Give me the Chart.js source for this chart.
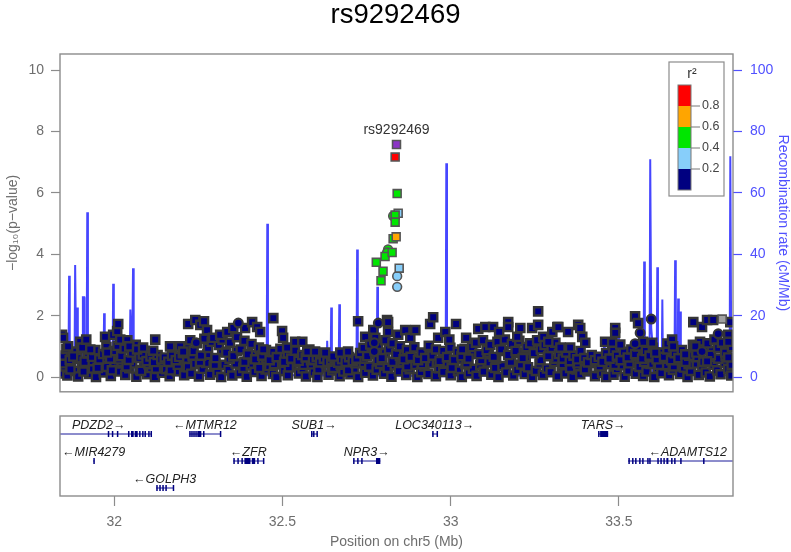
<!DOCTYPE html>
<html>
<head>
<meta charset="utf-8">
<script src="https://cdn.jsdelivr.net/npm/chart.js@4.4.0/dist/chart.umd.min.js"></script>
<style>
  html, body { margin: 0; padding: 0; background: #fff; }
  #wrap { position: relative; width: 791px; height: 552px; }
  #assoc { position: absolute; left: 0; top: 0; }
  #genes { position: absolute; left: 0; top: 400px; }
</style>
</head>
<body>
<div id="wrap">
  <canvas id="assoc" width="791" height="400"></canvas>
  <canvas id="genes" width="791" height="152"></canvas>
</div>
<script>
// ---- data ----
var leadSnp = 'rs9292469';
var leadPos = 32.839, leadLogP = 7.58;
var xMin = 31.839, xMax = 33.839;
var xTicks = [32, 32.5, 33, 33.5];
var pTicks = [0, 2, 4, 6, 8, 10];
var recTicks = [0, 20, 40, 60, 80, 100];
var r2Breaks = [0.2, 0.4, 0.6, 0.8];
var r2Colors = ['#000080', '#87cefa', '#00e600', '#ffa500', '#ff0000'];

// SNPs in LD with the lead SNP: position (Mb), -log10 p, r2, marker
var ldPos   = [32.835, 32.841, 32.844, 32.829, 32.835, 32.835, 32.829, 32.838, 32.814, 32.811, 32.805, 32.826, 32.779, 32.799, 32.793, 32.847, 32.841, 32.841];
var ldLogP  = [7.17, 5.98, 5.34, 5.25, 5.28, 5.05, 4.51, 4.57, 4.16, 4.06, 3.93, 4.06, 3.74, 3.45, 3.14, 3.55, 3.29, 2.94];
var ldR2    = [0.85, 0.5, 0.3, 0.45, 0.5, 0.5, 0.45, 0.65, 0.45, 0.45, 0.5, 0.5, 0.45, 0.45, 0.45, 0.3, 0.3, 0.3];
var ldShape = ['s', 's', 's', 'c', 's', 's', 's', 's', 'c', 'c', 's', 's', 's', 's', 's', 's', 'c', 'c'];

// background SNPs (r2 < 0.2): [position Mb, -log10 p]
var bgLow = [
  [31.842,0.12],[31.853,0.35],[31.861,0.05],[31.872,0.42],[31.884,0.2],[31.893,0.02],[31.905,0.31],[31.914,0.47],[31.926,0.1],[31.937,0.28],
  [31.946,0.0],[31.958,0.44],[31.969,0.15],[31.978,0.33],[31.990,0.04],[32.001,0.4],[32.012,0.18],[32.022,0.5],[32.033,0.07],[32.045,0.29],
  [32.054,0.45],[32.066,0.01],[32.077,0.22],[32.088,0.38],[32.098,0.09],[32.110,0.3],[32.121,0.0],[32.131,0.41],[32.142,0.14],[32.154,0.26],
  [32.165,0.03],[32.174,0.37],[32.186,0.19],[32.197,0.48],[32.208,0.06],[32.219,0.32],[32.229,0.11],[32.241,0.43],[32.252,0.02],[32.263,0.27],
  [32.273,0.46],[32.285,0.08],[32.296,0.35],[32.307,0.16],[32.318,0.0],[32.328,0.4],[32.340,0.23],[32.351,0.05],[32.361,0.44],[32.373,0.13],
  [32.384,0.3],[32.394,0.01],[32.406,0.38],[32.417,0.17],[32.428,0.47],[32.438,0.04],[32.450,0.25],[32.461,0.36],[32.472,0.1],[32.482,0.0],
  [32.494,0.42],[32.505,0.2],[32.516,0.06],[32.527,0.33],[32.537,0.48],[32.549,0.12],[32.560,0.28],[32.570,0.02],[32.582,0.39],[32.593,0.15],
  [32.604,0.0],[32.614,0.31],[32.626,0.45],[32.637,0.08],[32.648,0.22],[32.658,0.37],[32.670,0.03],[32.681,0.18],[32.692,0.41],[32.702,0.09],
  [32.714,0.27],[32.725,0.0],[32.736,0.46],[32.746,0.14],[32.758,0.34],[32.769,0.05],[32.780,0.24],[32.790,0.43],[32.802,0.11],[32.813,0.3],
  [32.824,0.01],[32.834,0.38],[32.846,0.19],[32.857,0.49],[32.868,0.07],[32.878,0.26],[32.890,0.4],[32.901,0.0],[32.912,0.16],[32.922,0.35],
  [32.934,0.1],[32.945,0.44],[32.956,0.03],[32.966,0.29],[32.978,0.17],[32.989,0.47],[33.000,0.06],[33.010,0.33],[33.022,0.21],[33.033,0.0],
  [33.044,0.42],[33.054,0.12],[33.066,0.27],[33.077,0.04],[33.088,0.39],[33.098,0.18],[33.110,0.48],[33.121,0.08],[33.132,0.3],[33.142,0.0],
  [33.154,0.36],[33.165,0.15],[33.176,0.45],[33.186,0.05],[33.198,0.23],[33.209,0.41],[33.220,0.1],[33.230,0.32],[33.242,0.0],[33.253,0.2],
  [33.264,0.44],[33.274,0.07],[33.286,0.28],[33.297,0.16],[33.308,0.5],[33.318,0.02],[33.330,0.34],[33.341,0.12],[33.352,0.4],[33.362,0.0],
  [33.374,0.25],[33.385,0.09],[33.396,0.37],[33.406,0.19],[33.418,0.46],[33.429,0.03],[33.440,0.3],[33.450,0.14],[33.462,0.0],[33.473,0.42],
  [33.484,0.08],[33.494,0.26],[33.506,0.38],[33.517,0.01],[33.528,0.21],[33.538,0.47],[33.550,0.11],[33.561,0.33],[33.572,0.04],[33.582,0.18],
  [33.594,0.43],[33.605,0.0],[33.616,0.29],[33.626,0.13],[33.638,0.39],[33.649,0.06],[33.660,0.24],[33.670,0.48],[33.682,0.1],[33.693,0.31],
  [33.704,0.0],[33.714,0.2],[33.726,0.44],[33.737,0.07],[33.748,0.35],[33.758,0.15],[33.770,0.02],[33.781,0.4],[33.792,0.22],[33.802,0.09],
  [33.814,0.46],[33.825,0.27],[33.834,0.05]
];
var bgFill = [
  [31.850,0.45],[31.870,0.25],[31.889,0.6],[31.909,0.18],[31.931,0.52],[31.951,0.3],[31.972,0.62],[31.993,0.22],[32.015,0.58],[32.037,0.35],
  [32.058,0.66],[32.080,0.2],[32.102,0.42],[32.124,0.28],[32.146,0.5],[32.168,0.22],[32.189,0.4],[32.211,0.6],[32.233,0.7],[32.255,0.5],
  [32.277,0.75],[32.299,0.4],[32.321,0.82],[32.343,0.6],[32.365,0.85],[32.387,0.5],[32.409,0.72],[32.431,0.3],[32.453,0.6],[32.475,0.42],
  [32.497,0.7],[32.519,0.32],[32.541,0.6],[32.563,0.4],[32.585,0.55],[32.607,0.25],[32.629,0.45],[32.651,0.3],[32.673,0.4],[32.695,0.22],
  [32.717,0.45],[32.739,0.6],[32.761,0.75],[32.783,0.55],[32.805,0.8],[32.827,0.5],[32.849,0.7],[32.871,0.35],[32.893,0.62],[32.915,0.42],
  [32.937,0.7],[32.959,0.5],[32.981,0.65],[33.003,0.3],[33.025,0.58],[33.047,0.45],[33.069,0.75],[33.091,0.55],[33.113,0.8],[33.135,0.6],
  [33.157,0.85],[33.179,0.5],[33.201,0.78],[33.223,0.65],[33.245,0.88],[33.267,0.55],[33.289,0.8],[33.311,0.6],[33.333,0.42],[33.355,0.3],
  [33.377,0.45],[33.399,0.25],[33.421,0.5],[33.443,0.35],[33.465,0.55],[33.487,0.4],[33.509,0.6],[33.531,0.45],[33.553,0.7],[33.575,0.5],
  [33.597,0.65],[33.619,0.4],[33.641,0.6],[33.663,0.35],[33.685,0.55],[33.707,0.42],[33.729,0.65],[33.751,0.5],[33.773,0.85],[33.795,0.6],
  [33.817,0.7],[33.835,0.4]
];
var bgMid = [
  [31.847,0.7],[31.858,0.92],[31.868,0.55],[31.880,0.83],[31.891,0.62],[31.902,0.95],[31.912,0.5],[31.923,0.78],[31.934,0.66],[31.944,0.88],
  [31.956,0.58],[31.967,0.75],[31.977,0.98],[31.988,0.6],[31.999,0.85],[32.010,1.02],[32.021,0.68],[32.031,0.93],[32.043,0.56],[32.053,0.8],
  [32.064,1.05],[32.075,0.63],[32.085,0.74],[32.096,0.52],[32.108,0.67],[32.118,0.49],[32.129,0.72],[32.140,0.58],[32.150,0.64],[32.161,0.5],
  [32.172,0.7],[32.183,0.55],[32.193,0.66],[32.204,0.78],[32.215,1.0],[32.226,1.2],[32.236,0.85],[32.247,1.1],[32.258,0.7],[32.268,1.25],
  [32.279,0.95],[32.290,1.15],[32.301,0.62],[32.311,1.05],[32.322,1.22],[32.333,0.8],[32.344,1.12],[32.354,0.68],[32.365,1.3],[32.376,0.9],
  [32.387,1.18],[32.397,0.74],[32.408,1.08],[32.419,0.58],[32.430,0.96],[32.440,0.7],[32.451,0.88],[32.462,0.55],[32.473,0.82],[32.483,0.65],
  [32.494,0.92],[32.505,0.5],[32.516,0.77],[32.526,0.6],[32.537,0.86],[32.548,0.53],[32.559,0.72],[32.569,0.64],[32.580,0.9],[32.591,0.57],
  [32.602,0.66],[32.612,0.48],[32.623,0.6],[32.634,0.5],[32.645,0.55],[32.655,0.62],[32.666,0.47],[32.677,0.58],[32.688,0.5],[32.698,0.65],
  [32.709,0.52],[32.720,0.6],[32.731,0.78],[32.741,0.95],[32.752,0.68],[32.763,1.12],[32.774,0.85],[32.784,1.05],[32.795,0.62],[32.806,1.2],
  [32.817,0.9],[32.827,1.1],[32.838,0.75],[32.849,1.0],[32.860,0.58],[32.870,0.88],[32.881,0.66],[32.892,0.97],[32.903,0.55],[32.913,0.8],
  [32.924,0.62],[32.935,1.02],[32.946,0.7],[32.956,0.9],[32.967,0.52],[32.978,0.85],[32.989,0.65],[32.999,0.95],[33.010,0.56],[33.021,0.82],
  [33.032,0.68],[33.042,0.92],[33.053,0.6],[33.064,0.98],[33.075,1.12],[33.085,0.75],[33.096,1.2],[33.107,0.88],[33.118,1.05],[33.128,0.66],
  [33.139,1.15],[33.150,0.9],[33.161,1.22],[33.171,0.72],[33.182,1.08],[33.193,0.85],[33.204,1.18],[33.214,0.62],[33.225,0.98],[33.236,1.1],
  [33.247,0.78],[33.257,1.2],[33.268,0.9],[33.279,1.05],[33.290,0.68],[33.300,0.95],[33.311,1.12],[33.322,0.75],[33.333,0.6],[33.343,0.8],
  [33.354,0.52],[33.365,0.7],[33.376,0.58],[33.386,0.85],[33.397,0.62],[33.408,0.48],[33.419,0.72],[33.429,0.55],[33.440,0.66],[33.451,0.5],
  [33.462,0.78],[33.472,0.6],[33.483,0.88],[33.494,0.7],[33.505,0.55],[33.515,0.82],[33.526,0.64],[33.537,0.9],[33.548,0.75],[33.558,1.0],
  [33.569,0.6],[33.580,0.85],[33.591,0.7],[33.601,0.95],[33.612,0.58],[33.623,0.8],[33.634,0.66],[33.644,0.9],[33.655,0.55],[33.666,0.78],
  [33.677,0.62],[33.687,0.88],[33.698,0.5],[33.709,0.7],[33.720,1.05],[33.730,0.8],[33.741,1.15],[33.752,0.9],[33.763,1.1],[33.773,0.72],
  [33.784,1.22],[33.795,0.95],[33.806,1.12],[33.816,0.8],[33.827,1.2],[33.836,0.98]
];
var bgTop = [
  [31.845,1.38],[31.848,1.28],[31.863,1.00],[31.878,0.67],[31.899,1.15],[31.905,0.96],[31.917,1.22],[31.929,0.90],
  [31.973,1.31],[31.979,0.80],[31.997,1.38],[32.009,1.50],[32.012,1.73],[32.018,1.22],[32.039,1.20],[32.045,1.00],
  [32.068,0.90],[32.086,0.96],[32.116,0.86],[32.122,1.22],[32.166,1.00],[32.196,1.00],[32.205,0.83],[32.220,1.73],
  [32.241,1.86],[32.256,1.70],[32.267,1.82],[32.276,1.53],[32.294,1.28],[32.315,1.38],[32.336,1.47],[32.354,1.60],
  [32.389,1.60],[32.410,1.79],[32.425,1.63],[32.434,1.47],[32.443,0.90],[32.473,1.92],[32.499,1.50],[32.502,1.28],
  [32.514,0.96],[32.538,1.15],[32.559,1.15],[32.574,0.83],[32.597,0.83],[32.627,0.80],[32.651,0.67],[32.672,0.80],
  [32.695,0.83],[32.725,1.82],[32.746,1.31],[32.761,1.06],[32.770,1.53],[32.776,1.28],[32.811,1.86],[32.814,1.47],
  [32.814,1.79],[32.844,1.38],[32.865,1.53],[32.880,1.28],[32.895,1.53],[32.939,1.73],[32.948,1.95],[32.963,1.28],
  [32.984,1.47],[32.996,1.22],[33.016,1.73],[33.034,0.90],[33.046,1.28],[33.082,1.57],[33.103,1.63],[33.126,1.63],
  [33.144,1.47],[33.171,1.79],[33.171,1.63],[33.198,1.31],[33.207,1.60],[33.242,1.60],[33.260,2.14],[33.260,1.70],
  [33.275,1.31],[33.290,1.15],[33.302,1.47],[33.317,1.63],[33.320,1.63],[33.326,0.96],[33.349,1.47],[33.355,0.96],
  [33.379,1.70],[33.385,1.60],[33.391,1.31],[33.400,1.12],[33.459,1.15],[33.480,1.12],[33.489,1.60],[33.489,1.44],
  [33.504,1.06],[33.548,1.98],[33.557,1.76],[33.572,1.15],[33.599,1.12],[33.608,0.80],[33.644,1.09],[33.658,1.22],
  [33.661,1.00],[33.697,0.74],[33.721,1.79],[33.727,1.00],[33.747,1.63],[33.762,1.86],[33.762,0.51],[33.780,1.86],
  [33.825,1.38],[33.825,1.15],[33.825,0.64],[33.831,1.79]
];
var bgCircles = [[32.244,1.12],[32.369,1.76],[32.773,1.12],[32.773,0.83],[32.785,1.76],[33.548,1.09],[33.563,1.44],[33.596,1.89],[33.747,0.83],[33.795,1.41]];
var naSquares = [[33.807,1.89]];

// recombination rate: [position Mb, cM/Mb]
var recomb = [
  [31.839,1.2],[31.864,0.8],[31.866,33],[31.868,1.0],[31.882,1.5],[31.884,36.5],[31.887,6],[31.890,22.7],[31.892,1.2],
  [31.906,2],[31.907,26],[31.911,26],[31.912,1.0],[31.918,1.0],[31.920,53.7],[31.922,1.0],[31.968,0.8],[31.970,20.8],[31.972,1.0],
  [31.983,0.8],[31.985,15],[31.987,1.2],[31.995,0.9],[31.997,30.4],[31.999,1.0],[32.046,1.5],[32.048,22],[32.051,12],[32.053,1.0],
  [32.054,1.0],[32.056,35.5],[32.058,1.0],[32.200,0.5],[32.453,0.6],[32.455,50],[32.457,0.7],[32.631,0.5],[32.633,11.8],[32.636,0.8],
  [32.643,0.9],[32.645,22.7],[32.647,0.8],[32.667,0.6],[32.669,23.7],[32.671,0.7],[32.720,0.8],[32.722,41.6],[32.724,0.9],
  [32.780,0.6],[32.782,29.4],[32.784,0.5],[32.985,0.3],[32.987,69.7],[32.989,0.4],[33.454,0.5],[33.456,13],[33.458,0.6],
  [33.496,0.4],[33.498,15],[33.500,0.6],[33.520,0.5],[33.522,9.6],[33.524,0.6],[33.573,0.8],[33.575,37.7],[33.577,1.0],
  [33.591,1.2],[33.593,71],[33.596,16],[33.599,12],[33.601,1.0],[33.612,0.9],[33.614,35.8],[33.616,1.0],[33.627,1.0],
  [33.629,25.3],[33.631,0.9],[33.665,0.8],[33.667,38.1],[33.669,1.0],[33.674,1.0],[33.676,25.6],[33.678,1.0],[33.680,1.0],
  [33.682,21.4],[33.684,0.8],[33.829,0.6],[33.831,72],[33.834,1.5],[33.839,2]
];

// genes in the region
var geneNames  = ['PDZD2', 'MTMR12', 'SUB1', 'LOC340113', 'TARS', 'MIR4279', 'ZFR', 'NPR3', 'ADAMTS12', 'GOLPH3'];
var geneStart  = [31.798, 32.223, 32.585, 32.945, 33.438, 31.938, 32.354, 32.710, 33.527, 32.125];
var geneEnd    = [32.110, 32.316, 32.603, 32.960, 33.468, 31.939, 32.443, 32.791, 33.892, 32.175];
var geneStrand = [1, -1, 1, 1, 1, -1, -1, 1, -1, -1];
var geneRow    = [1, 1, 1, 1, 1, 2, 2, 2, 2, 3];
var geneExons  = [
  [[31.981,31.983],[31.993,31.995],[32.008,32.010],[32.041,32.043],[32.050,32.058],[32.061,32.070],[32.074,32.077],[32.083,32.085],[32.090,32.092],[32.101,32.103],[32.108,32.110]],
  [[32.223,32.224],[32.229,32.230],[32.235,32.236],[32.241,32.242],[32.247,32.259],[32.264,32.266],[32.314,32.316]],
  [[32.585,32.587],[32.591,32.595],[32.601,32.603]],
  [[32.945,32.947],[32.958,32.960]],
  [[33.438,33.440],[33.444,33.468]],
  [[31.938,31.939]],
  [[32.354,32.355],[32.366,32.367],[32.378,32.379],[32.387,32.405],[32.409,32.419],[32.425,32.426],[32.442,32.443]],
  [[32.710,32.711],[32.722,32.723],[32.734,32.735],[32.778,32.791]],
  [[33.528,33.529],[33.539,33.540],[33.548,33.549],[33.560,33.561],[33.569,33.570],[33.584,33.585],[33.590,33.591],[33.614,33.615],[33.623,33.624],[33.632,33.633],[33.641,33.647],[33.655,33.656],[33.664,33.665],[33.682,33.683],[33.750,33.751]],
  [[32.125,32.126],[32.134,32.135],[32.143,32.144],[32.152,32.153],[32.174,32.175]]
];

// ---- helpers ----
var FONT = "'Liberation Sans', Arial, sans-serif";
var GREY = '#6e6e6e';
var FRAME = '#8c8c8c';
var RECBLUE = 'rgb(80,80,255)';

function r2Color(r2) {
  var k = 0;
  while (k < r2Breaks.length && r2 >= r2Breaks[k]) k++;
  return r2Colors[k];
}
function toXY(arr) {
  return arr.map(function (p) { return {x: p[0], y: p[1]}; });
}
function fixedTicks(list) {
  return function (axis) { axis.ticks = list.map(function (v) { return {value: v}; }); };
}

var ldSq = ldPos.map(function (_, i) { return i; }).filter(function (i) { return ldShape[i] === 's'; });
var ldCi = ldPos.map(function (_, i) { return i; }).filter(function (i) { return ldShape[i] === 'c'; });

// frame, legend and lead label on the association panel
var assocDecor = {
  id: 'assocDecor',
  afterDatasetsDraw: function (chart) {
    var ctx = chart.ctx, a = chart.chartArea;
    ctx.save();
    // lead snp label
    var el = chart.getDatasetMeta(0).data[0];
    ctx.fillStyle = '#333';
    ctx.font = '14px ' + FONT;
    ctx.textAlign = 'center';
    ctx.textBaseline = 'middle';
    ctx.fillText(leadSnp, el.x, el.y - 14);

    // r2 legend
    var L = a.right - 64, T = a.top + 8;
    ctx.fillStyle = '#fff';
    ctx.fillRect(L, T, 55, 134);
    ctx.strokeStyle = FRAME;
    ctx.lineWidth = 1.2;
    ctx.strokeRect(L, T, 55, 134);
    ctx.fillStyle = '#333';
    ctx.font = '14px ' + FONT;
    ctx.fillText('r\u00b2', L + 23, T + 12);
    var bh = 21;
    for (var k = 0; k < r2Colors.length; k++) {
      var yb = T + 23 + (r2Colors.length - 1 - k) * bh;
      ctx.fillStyle = r2Colors[k];
      ctx.fillRect(L + 9, yb, 13, bh);
    }
    ctx.strokeStyle = '#777';
    ctx.lineWidth = 1;
    ctx.strokeRect(L + 9, T + 23, 13, bh * r2Colors.length);
    ctx.font = '12.5px ' + FONT;
    ctx.textAlign = 'left';
    ctx.fillStyle = '#444';
    for (var j = 0; j < r2Breaks.length; j++) {
      var yt = T + 23 + (r2Breaks.length - j) * bh;
      ctx.beginPath();
      ctx.moveTo(L + 22, yt);
      ctx.lineTo(L + 31, yt);
      ctx.stroke();
      ctx.fillText(r2Breaks[j].toFixed(1), L + 33, yt);
    }
    ctx.restore();
  },
  afterDraw: function (chart) {
    var ctx = chart.ctx, a = chart.chartArea;
    ctx.save();
    ctx.strokeStyle = FRAME;
    ctx.lineWidth = 1.4;
    ctx.strokeRect(a.left, a.top, a.right - a.left, a.bottom - a.top);
    ctx.restore();
  }
};

// gene track drawn through the x and y scales
var geneTrack = {
  id: 'geneTrack',
  afterDatasetsDraw: function (chart) {
    var ctx = chart.ctx, a = chart.chartArea;
    var xs = chart.scales.x, ys = chart.scales.y;
    ctx.save();
    ctx.beginPath();
    ctx.rect(a.left, a.top, a.right - a.left, a.bottom - a.top);
    ctx.clip();
    ctx.font = 'italic 12.5px ' + FONT;
    ctx.textBaseline = 'middle';
    ctx.textAlign = 'center';
    for (var i = 0; i < geneNames.length; i++) {
      var y = ys.getPixelForValue(geneRow[i]);
      var x0 = xs.getPixelForValue(geneStart[i]);
      var x1 = xs.getPixelForValue(geneEnd[i]);
      ctx.strokeStyle = '#1a1a9a';
      ctx.lineWidth = 1;
      ctx.beginPath();
      ctx.moveTo(x0, y);
      ctx.lineTo(Math.max(x1, x0 + 1), y);
      ctx.stroke();
      ctx.fillStyle = '#000080';
      geneExons[i].forEach(function (e) {
        var e0 = xs.getPixelForValue(e[0]);
        var e1 = Math.max(xs.getPixelForValue(e[1]), e0 + 1.5);
        ctx.fillRect(e0, y - 3, e1 - e0, 6);
      });
      var label = geneStrand[i] > 0 ? geneNames[i] + '\u2192' : '\u2190' + geneNames[i];
      var w = ctx.measureText(label).width;
      var cx = xs.getPixelForValue((geneStart[i] + geneEnd[i]) / 2);
      cx = Math.min(Math.max(cx, a.left + w / 2 + 2), a.right - w / 2 - 6);
      ctx.fillStyle = '#222';
      ctx.fillText(label, cx, y - 8.5);
    }
    ctx.restore();
    ctx.save();
    ctx.strokeStyle = FRAME;
    ctx.lineWidth = 1.4;
    ctx.strokeRect(a.left, a.top, a.right - a.left, a.bottom - a.top);
    ctx.restore();
  }
};

// ---- association panel ----
new Chart(document.getElementById('assoc'), {
  type: 'scatter',
  data: {
    datasets: [{
      label: 'lead',
      data: [{x: leadPos, y: leadLogP}],
      pointStyle: 'rect', pointRadius: 5.6,
      backgroundColor: '#8b34c6', borderColor: '#555', borderWidth: 1.6, clip: 0
    }, {
      label: 'ld squares',
      data: ldSq.map(function (i) { return {x: ldPos[i], y: ldLogP[i]}; }),
      pointStyle: 'rect', pointRadius: 5.6,
      backgroundColor: ldSq.map(function (i) { return r2Color(ldR2[i]); }),
      borderColor: '#555', borderWidth: 1.6, clip: 0
    }, {
      label: 'ld circles',
      data: ldCi.map(function (i) { return {x: ldPos[i], y: ldLogP[i]}; }),
      pointStyle: 'circle', pointRadius: 4.4,
      backgroundColor: ldCi.map(function (i) { return r2Color(ldR2[i]); }),
      borderColor: '#555', borderWidth: 1.6, clip: 0
    }, {
      label: 'bg circles',
      data: toXY(bgCircles),
      pointStyle: 'circle', pointRadius: 4.4,
      backgroundColor: r2Colors[0], borderColor: '#363636', borderWidth: 2.2, clip: 0
    }, {
      label: 'no r2',
      data: toXY(naSquares),
      pointStyle: 'rect', pointRadius: 5.6,
      backgroundColor: '#a0a0a0', borderColor: '#555', borderWidth: 1.6, clip: 0
    }, {
      label: 'bg squares',
      data: toXY(bgLow.concat(bgFill, bgMid, bgTop)),
      pointStyle: 'rect', pointRadius: 5.8,
      backgroundColor: r2Colors[0], borderColor: '#363636', borderWidth: 2.4, clip: 0
    }, {
      type: 'line',
      label: 'recombination',
      yAxisID: 'y2',
      data: toXY(recomb),
      borderColor: 'rgba(50,50,255,0.9)', borderWidth: 2,
      pointRadius: 0, tension: 0, fill: false
    }]
  },
  options: {
    responsive: false, animation: false, events: [],
    layout: {padding: {left: 0, right: 0, top: 0, bottom: 2}},
    plugins: {
      legend: {display: false},
      tooltip: {enabled: false},
      title: {
        display: true, text: leadSnp, color: '#000',
        font: {family: FONT, size: 27.5, weight: 'normal', lineHeight: 1.1},
        padding: {top: 0, bottom: 23.75}
      }
    },
    scales: {
      x: {type: 'linear', display: false, min: xMin, max: xMax},
      y: {
        position: 'left', min: -0.48, max: 10.53,
        afterBuildTicks: fixedTicks(pTicks),
        afterFit: function (s) { s.width = 60; s.paddingTop = 0; s.paddingBottom = 0; },
        grid: {drawOnChartArea: false, tickLength: 9, color: FRAME, tickWidth: 1.2},
        border: {display: false},
        ticks: {color: GREY, font: {family: FONT, size: 14}, padding: 7, callback: function (v) { return String(v); }},
        title: {display: true, text: '\u2212log\u2081\u2080(p\u2212value)', color: GREY, font: {family: FONT, size: 14}, padding: {top: 4.6, bottom: 0}}
      },
      y2: {
        position: 'right', min: -4.8, max: 105.3,
        afterBuildTicks: fixedTicks(recTicks),
        afterFit: function (s) { s.width = 58; s.paddingTop = 0; s.paddingBottom = 0; },
        grid: {drawOnChartArea: false, tickLength: 9, color: RECBLUE, tickWidth: 1.2},
        border: {display: false},
        ticks: {color: RECBLUE, font: {family: FONT, size: 14}, padding: 8, callback: function (v) { return String(v); }},
        title: {display: true, text: 'Recombination rate (cM/Mb)', color: RECBLUE, font: {family: FONT, size: 14}, padding: {top: 0, bottom: 0}}
      }
    }
  },
  plugins: [assocDecor]
});

// ---- gene panel ----
new Chart(document.getElementById('genes'), {
  type: 'scatter',
  data: {datasets: []},
  options: {
    responsive: false, animation: false, events: [],
    layout: {padding: {left: 60, right: 58, top: 16, bottom: 0}},
    plugins: {legend: {display: false}, tooltip: {enabled: false}},
    scales: {
      x: {
        type: 'linear', min: xMin, max: xMax,
        afterBuildTicks: fixedTicks(xTicks),
        afterFit: function (s) { s.height = 56; s.paddingLeft = 0; s.paddingRight = 0; },
        grid: {drawOnChartArea: false, tickLength: 10, color: FRAME, tickWidth: 1.2},
        border: {display: false},
        ticks: {color: GREY, font: {family: FONT, size: 14}, padding: 7.6, maxRotation: 0, callback: function (v) { return String(v); }},
        title: {display: true, text: 'Position on chr5 (Mb)', color: GREY, font: {family: FONT, size: 14}, padding: {top: 0, bottom: 1.6}}
      },
      y: {type: 'linear', display: false, min: 0.333, max: 3.296, reverse: true}
    }
  },
  plugins: [geneTrack]
});
</script>
</body>
</html>
